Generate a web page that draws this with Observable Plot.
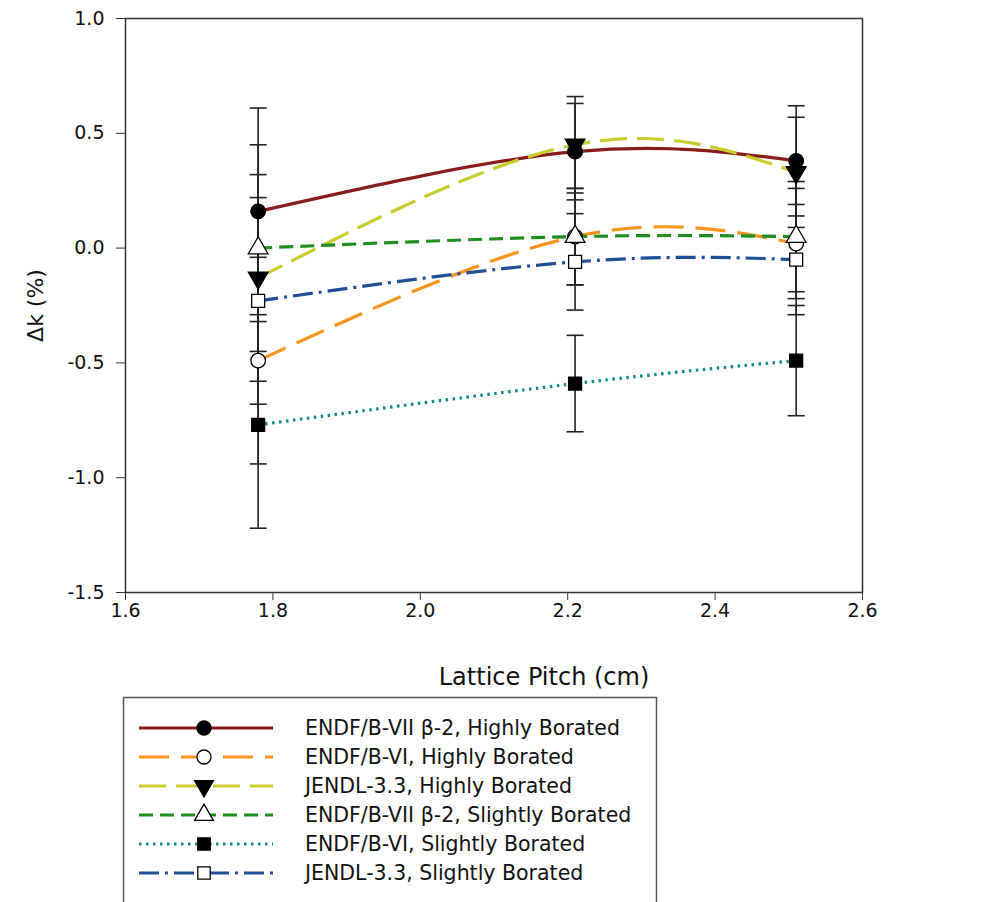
<!DOCTYPE html>
<html>
<head>
<meta charset="utf-8">
<script src="https://cdn.jsdelivr.net/npm/d3@7"></script>
<script src="https://cdn.jsdelivr.net/npm/@observablehq/plot@0.6"></script>
<style>
  body { margin: 0; background: #fff; font-family: "DejaVu Sans", sans-serif; }
  #chart { position: relative; width: 983px; height: 902px; overflow: hidden; background: #fff; }
  #chart svg { display: block; }
</style>
</head>
<body>
<div id="chart"></div>
<script>
// ---------- data ----------
const pitch = [1.78, 2.21, 2.51];
const uncertainty = [0.45, 0.21, 0.24];

const seriesNames = [
  "ENDF/B-VII \u03b2-2, Highly Borated",
  "ENDF/B-VI, Highly Borated",
  "JENDL-3.3, Highly Borated",
  "ENDF/B-VII \u03b2-2, Slightly Borated",
  "ENDF/B-VI, Slightly Borated",
  "JENDL-3.3, Slightly Borated"
];
const endf7High   = [0.16, 0.42, 0.38];
const endf6High   = [-0.49, 0.05, 0.02];
const jendlHigh   = [-0.13, 0.45, 0.33];
const endf7Slight = [0.00, 0.05, 0.05];
const endf6Slight = [-0.77, -0.59, -0.49];
const jendlSlight = [-0.23, -0.06, -0.05];
const seriesValues = [endf7High, endf6High, jendlHigh, endf7Slight, endf6Slight, jendlSlight];

const xTicks = [1.6, 1.8, 2.0, 2.2, 2.4, 2.6];
const yTicks = [-1.5, -1.0, -0.5, 0.0, 0.5, 1.0];

// ---------- styles ----------
const FONT = "'DejaVu Sans', sans-serif";
const sqrt3 = Math.sqrt(3);
const triangleDown = {
  draw(context, size) {
    const y = -Math.sqrt(size / (sqrt3 * 3));
    context.moveTo(0, -y * 2);
    context.lineTo(-sqrt3 * y, y);
    context.lineTo(sqrt3 * y, y);
    context.closePath();
  }
};
const capSymbol = {
  draw(context, size) {
    const w = Math.sqrt(size / Math.PI);
    context.moveTo(-w, 0);
    context.lineTo(w, 0);
  }
};
const styles = [
  {color: "#8b1a1a", dash: null,          symbol: d3.symbolCircle,   fill: "black"},
  {color: "#f7941d", dash: "30,12",       symbol: d3.symbolCircle,   fill: "white"},
  {color: "#c9cc2e", dash: "27,10",       symbol: triangleDown,      fill: "black"},
  {color: "#1f8f1f", dash: "14,7",        symbol: d3.symbolTriangle, fill: "white"},
  {color: "#0f8a8a", dash: "2.5,4.5",     symbol: d3.symbolSquare,   fill: "black"},
  {color: "#1f4f96", dash: "20,6,3,6",    symbol: d3.symbolSquare,   fill: "white"}
];

// ---------- table ----------
const rows = [];
seriesNames.forEach((name, i) => {
  seriesValues[i].forEach((v, j) => {
    rows.push({series: name, idx: i, x: pitch[j], y: v, e: uncertainty[j]});
  });
});

const lineMarks = seriesNames.map((name, i) =>
  Plot.line(rows.filter(d => d.idx === i), {
    x: "x", y: "y", stroke: styles[i].color, strokeWidth: 3.2,
    strokeDasharray: styles[i].dash, curve: "natural", strokeLinecap: "butt"
  })
);
const dotMarks = seriesNames.map((name, i) =>
  Plot.dot(rows.filter(d => d.idx === i), {
    x: "x", y: "y", symbol: styles[i].symbol, r: 7.3,
    fill: styles[i].fill, stroke: "black", strokeWidth: 1.3
  })
);

const plot = Plot.plot({
  width: 983,
  height: 690,
  marginLeft: 125,
  marginRight: 121,
  marginTop: 18,
  marginBottom: 98,
  style: {fontFamily: FONT, fontSize: "19px", color: "#111", background: "#fff"},
  x: {domain: [1.6, 2.6], label: null},
  y: {domain: [-1.5, 1.0], label: null},
  marks: [
    ...lineMarks,
    Plot.ruleX(rows, {x: "x", y1: d => d.y - d.e, y2: d => d.y + d.e, stroke: "#222", strokeWidth: 1.6}),
    Plot.dot(rows, {x: "x", y: d => d.y + d.e, symbol: capSymbol, r: 8.5, fill: "none", stroke: "#222", strokeWidth: 1.6}),
    Plot.dot(rows, {x: "x", y: d => d.y - d.e, symbol: capSymbol, r: 8.5, fill: "none", stroke: "#222", strokeWidth: 1.6}),
    ...dotMarks,
    Plot.frame({stroke: "#333", strokeWidth: 1.5}),
    Plot.axisX({ticks: xTicks, tickFormat: d => d.toFixed(1), tickSize: 8, tickPadding: 3, label: null, stroke: "#333", fontSize: 19}),
    Plot.axisY({ticks: yTicks, tickFormat: d => d.toFixed(1), tickSize: 9, tickPadding: 12, label: null, stroke: "#333", fontSize: 19}),
    Plot.text(["Lattice Pitch (cm)"], {text: d => d, frameAnchor: "bottom", dx: 50, dy: 92, fontSize: 24}),
    Plot.text(["\u0394k (%)"], {text: d => d, frameAnchor: "left", textAnchor: "middle", dx: -90, rotate: -90, fontSize: 22})
  ]
});
document.getElementById("chart").appendChild(plot);

// ---------- legend ----------
const leg = d3.select("#chart").append("svg")
  .attr("width", 983).attr("height", 212)
  .style("font-family", FONT);
leg.append("rect")
  .attr("x", 123.5).attr("y", 7.5).attr("width", 533).attr("height", 260)
  .attr("fill", "none").attr("stroke", "#555").attr("stroke-width", 1.5);
seriesNames.forEach((name, i) => {
  const y = 38 + i * 29;
  const s = styles[i];
  leg.append("line")
    .attr("x1", 139).attr("x2", 273).attr("y1", y).attr("y2", y)
    .attr("stroke", s.color).attr("stroke-width", 3.2)
    .attr("stroke-dasharray", s.dash);
  leg.append("path")
    .attr("d", d3.symbol(s.symbol, Math.PI * 7 * 7)())
    .attr("transform", `translate(204,${y})`)
    .attr("fill", s.fill).attr("stroke", "black").attr("stroke-width", 1.3);
  leg.append("text")
    .attr("x", 305).attr("y", y).attr("dy", "0.35em")
    .attr("font-size", 20.5).attr("fill", "#111")
    .text(name);
});
</script>
</body>
</html>
